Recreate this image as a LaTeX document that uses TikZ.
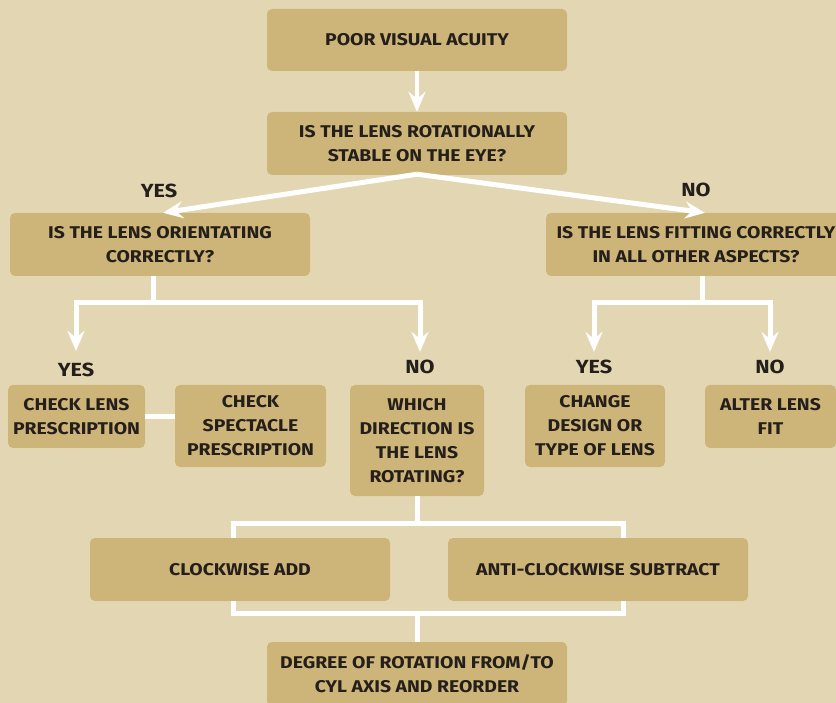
\documentclass[tikz,border=0pt]{standalone}
\usepackage{fontspec}
\setmainfont{Fira Sans}[FakeStretch=1.14]
\usetikzlibrary{arrows.meta}
\definecolor{bg}{HTML}{E3D7B3}
\definecolor{bx}{HTML}{CDB479}
\definecolor{tx}{HTML}{241F1A}
\begin{document}
\begin{tikzpicture}[x=1pt,y=-1pt,
  box/.style={fill=bx, rounded corners=5pt, text=tx, font=\fontsize{17}{24}\selectfont\bfseries, align=center, inner sep=0pt},
  lbl/.style={text=tx, font=\fontsize{19}{24}\selectfont\bfseries, inner sep=0pt},
  wire/.style={draw=white, line width=5pt},
  arr/.style={wire, -{Stealth[length=20pt,width=17pt,inset=7pt]}}]
\clip (0,0) rectangle (836,703);
\fill[bg] (0,0) rectangle (836,703);
% boxes
\node[box, minimum width=300pt, minimum height=62pt] (a) at (417,40) {POOR VISUAL ACUITY};
\node[box, minimum width=300pt, minimum height=63pt] (b) at (417,143.5) {IS THE LENS ROTATIONALLY\\STABLE ON THE EYE?};
\node[box, minimum width=300pt, minimum height=63pt] (c) at (160,244.5) {IS THE LENS ORIENTATING\\CORRECTLY?};
\node[box, minimum width=300pt, minimum height=63pt] (d) at (696,244.5) {IS THE LENS FITTING CORRECTLY\\IN ALL OTHER ASPECTS?};
\node[box, minimum width=137pt, minimum height=63pt] (e) at (76.5,416.5) {CHECK LENS\\PRESCRIPTION};
\node[box, minimum width=151pt, minimum height=82pt] (f) at (250.5,426) {CHECK\\SPECTACLE\\PRESCRIPTION};
\node[box, minimum width=134pt, minimum height=111pt] (g) at (417,440.5) {WHICH\\DIRECTION IS\\THE LENS\\ROTATING?};
\node[box, minimum width=140pt, minimum height=82pt] (h) at (595,426) {CHANGE\\DESIGN OR\\TYPE OF LENS};
\node[box, minimum width=131pt, minimum height=63pt] (i) at (770.5,416.5) {ALTER LENS\\FIT};
\node[box, minimum width=300pt, minimum height=63pt] (j) at (240,569.5) {CLOCKWISE ADD};
\node[box, minimum width=300pt, minimum height=63pt] (k) at (598,569.5) {ANTI-CLOCKWISE SUBTRACT};
\node[box, minimum width=300pt, minimum height=64pt] (l) at (417,674) {DEGREE OF ROTATION FROM/TO\\CYL AXIS AND REORDER};
% labels
\node[lbl] (y0) at (159,191) {YES};
\node[lbl] (n0) at (696,190) {NO};
\node[lbl] (y1) at (76,370) {YES};
\node[lbl] (n1) at (420,367) {NO};
\node[lbl] (y2) at (594,367) {YES};
\node[lbl] (n2) at (770,367) {NO};
% connectors
\draw[arr, line width=4pt] (a.south) -- (b.north);
\coordinate (bs) at ([yshift=1pt]b.south);
\draw[arr] (bs) -- ([xshift=3pt]c.north);
\draw[arr] (bs) -- ([xshift=9pt]d.north);
\coordinate (cs) at ([xshift=-7pt]c.south);
\coordinate (cj) at (153,303);
\coordinate (t1) at ([yshift=12pt]y1.north);
\coordinate (t2) at ([yshift=8pt]n1.north);
\draw[wire] (cs) -- (cj);
\draw[arr] (cj) -| (t1);
\draw[arr] (cj) -| (t2);
\coordinate (ds) at ([xshift=6pt]d.south);
\coordinate (dj) at (702,303);
\coordinate (t3) at ([yshift=8pt]y2.north);
\coordinate (t4) at ([yshift=8pt]n2.north);
\draw[wire] (ds) -- (dj);
\draw[arr] (dj) -| (t3);
\draw[arr] (dj) -| (t4);
\draw[wire] (e.east) -- (f.west |- e.east);
\coordinate (m1) at (417,523);
\coordinate (j1) at ([xshift=-7pt]j.north);
\coordinate (k1) at ([xshift=25pt]k.north);
\draw[wire] (g.south) -- (m1);
\draw[wire] (j1) |- (m1) -| (k1);
\coordinate (m2) at (417,613);
\coordinate (j2) at ([xshift=-7pt]j.south);
\coordinate (k2) at ([xshift=25pt]k.south);
\draw[wire] (j2) |- (m2) -| (k2);
\draw[wire] (m2) -- (l.north);
\end{tikzpicture}
\end{document}
